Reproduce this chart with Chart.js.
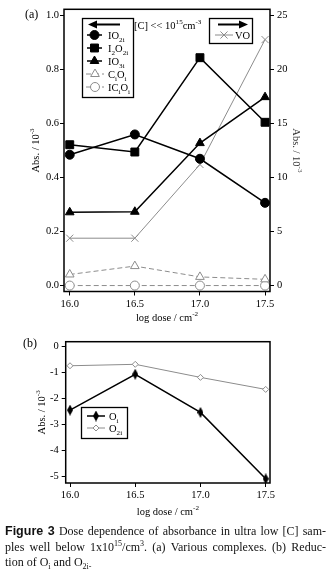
<!DOCTYPE html>
<html>
<head>
<meta charset="utf-8">
<script src="https://cdn.jsdelivr.net/npm/chart.js@4"></script>
<style>
html,body{margin:0;padding:0;background:#fff;width:331px;height:575px;overflow:hidden}
canvas{position:absolute;left:0}
#cap{position:absolute;left:5px;top:524px;width:321px;font:12px 'Liberation Serif',serif;line-height:15.5px;color:#111}
#cap .j{text-align:justify;text-align-last:justify}
#cap b{font-family:'Liberation Sans',sans-serif;font-size:12.5px}
#cap sup,#cap sub{font-size:8px;line-height:0}
</style>
</head>
<body>
<canvas id="ca" width="331" height="330" style="top:0"></canvas>
<canvas id="cb" width="331" height="200" style="top:325px"></canvas>
<div id="cap">
<div class="j"><b>Figure 3</b> Dose dependence of absorbance in ultra low [C] sam-</div>
<div class="j">ples well below 1x10<sup>15</sup>/cm<sup>3</sup>. (a) Various complexes. (b) Reduc-</div>
<div>tion of O<sub>i</sub> and O<sub>2i-</sub></div>
</div>
<script>
// log dose (cm^-2)
const doses = [16.0, 16.5, 17.0, 17.5];

// (a) complexes, absorbance / 10^-3 (left axis)
const io2i  = [0.484, 0.559, 0.469, 0.306];
const i2o2i = [0.521, 0.494, 0.843, 0.604];
const io3i  = [0.271, 0.273, 0.527, 0.697];
const cioi  = [0.041, 0.072, 0.032, 0.023];
const icioi = [0.0, 0.0, 0.0, 0.0];
// (a) VO, absorbance / 10^-3 (right axis)
const vo    = [4.38, 4.38, 11.2, 22.75];

// (b) oxygen reduction, absorbance / 10^-3
const oi  = [-2.45, -1.08, -2.54, -5.08];
const o2i = [-0.755, -0.70, -1.20, -1.66];

// tick labels
const doseTicks = ['16.0', '16.5', '17.0', '17.5'];
const absTicksA = ['0.0', '0.2', '0.4', '0.6', '0.8', '1.0'];
const voTicks   = ['0', '5', '10', '15', '20', '25'];
const absTicksB = ['-5', '-4', '-3', '-2', '-1', '0'];

const SERIF = "'Liberation Serif', serif";
const GREY = '#8c8c8c';
const FS = 10.5;

// draws text where digits and lowercase i after the first char are subscripts
function chemParts(s) {
  const parts = [];
  for (let k = 0; k < s.length; k++) {
    const c = s[k];
    const mode = (k > 0 && /[0-9i]/.test(c)) ? 'sub' : '';
    if (parts.length && parts[parts.length - 1][1] === mode) parts[parts.length - 1][0] += c;
    else parts.push([c, mode]);
  }
  return parts;
}

function rich(ctx, parts, x, y, size, align) {
  const base = size + 'px ' + SERIF;
  const small = (size * 0.68).toFixed(1) + 'px ' + SERIF;
  let w = 0;
  const ws = parts.map(p => { ctx.font = p[1] ? small : base; const m = ctx.measureText(p[0]).width; w += m; return m; });
  let cx = align === 'center' ? x - w / 2 : align === 'right' ? x - w : x;
  ctx.textAlign = 'left';
  ctx.textBaseline = 'alphabetic';
  parts.forEach((p, i) => {
    ctx.font = p[1] ? small : base;
    const dy = p[1] === 'sub' ? size * 0.3 : p[1] === 'sup' ? -size * 0.45 : 0;
    ctx.fillText(p[0], cx, y + dy);
    cx += ws[i];
  });
}

function rotatedTitle(ctx, parts, x, y, angle) {
  ctx.save();
  ctx.translate(x, y);
  ctx.rotate(angle);
  rich(ctx, parts, 0, 0, FS, 'center');
  ctx.restore();
}

function arrow(ctx, tail, head, y) {
  const d = head > tail ? 1 : -1;
  ctx.save();
  ctx.strokeStyle = '#000';
  ctx.fillStyle = '#000';
  ctx.lineWidth = 2;
  ctx.beginPath();
  ctx.moveTo(tail, y);
  ctx.lineTo(head - d * 7, y);
  ctx.stroke();
  ctx.beginPath();
  ctx.moveTo(head, y);
  ctx.lineTo(head - d * 9, y - 4);
  ctx.lineTo(head - d * 9, y + 4);
  ctx.closePath();
  ctx.fill();
  ctx.restore();
}

function sample(ctx, ds, x0, x1, xm, y) {
  ctx.save();
  ctx.strokeStyle = ds.borderColor;
  ctx.lineWidth = ds.borderWidth;
  ctx.setLineDash(ds.borderDash || []);
  ctx.beginPath();
  ctx.moveTo(x0, y);
  ctx.lineTo(x1, y);
  ctx.stroke();
  ctx.setLineDash([]);
  ctx.fillStyle = ds.pointBackgroundColor;
  ctx.strokeStyle = ds.pointBorderColor;
  ctx.lineWidth = ds.pointBorderWidth;
  Chart.helpers.drawPoint(ctx, { pointStyle: ds.pointStyle, radius: ds.pointRadius, rotation: 0, borderWidth: ds.pointBorderWidth }, xm, y);
  ctx.restore();
}

function box(ctx, x, y, w, h) {
  ctx.save();
  ctx.fillStyle = '#fff';
  ctx.fillRect(x, y, w, h);
  ctx.strokeStyle = '#000';
  ctx.lineWidth = 1.3;
  ctx.strokeRect(x, y, w, h);
  ctx.restore();
}

function frame(ctx, a) {
  ctx.save();
  ctx.strokeStyle = '#000';
  ctx.lineWidth = 1.5;
  ctx.strokeRect(a.left, a.top, a.right - a.left, a.bottom - a.top);
  ctx.restore();
}

function axis(pos, min, max, values, labels, size, pad) {
  return {
    type: 'linear', position: pos, min: min, max: max,
    afterBuildTicks: s => { s.ticks = values.map(v => ({ value: v })); },
    afterFit: s => { if (s.isHorizontal()) s.height = size; else s.width = size; },
    ticks: { callback: (v, i) => labels[i], color: '#000', font: { family: SERIF, size: FS }, padding: pad, autoSkip: false, maxRotation: 0 },
    grid: { drawOnChartArea: false, drawTicks: true, tickLength: 4, color: '#000', lineWidth: 1 },
    border: { display: false }
  };
}

function pts(ys) { return doses.map((x, i) => ({ x: x, y: ys[i] })); }

const solid = (ps, r) => ({
  borderColor: '#000', backgroundColor: '#000', borderWidth: 1.5,
  pointStyle: ps, pointRadius: r, pointBackgroundColor: '#000', pointBorderColor: '#000', pointBorderWidth: 1
});
const greyOpen = (ps, r) => ({
  borderColor: GREY, backgroundColor: GREY, borderWidth: 1, borderDash: [5, 3],
  pointStyle: ps, pointRadius: r, pointBackgroundColor: '#fff', pointBorderColor: GREY, pointBorderWidth: 1
});

// tall filled diamond marker for O_i
const diamond = document.createElement('canvas');
diamond.width = 6; diamond.height = 11;
(function () {
  const c = diamond.getContext('2d');
  c.fillStyle = '#000';
  c.beginPath();
  c.moveTo(3, 0); c.lineTo(6, 5.5); c.lineTo(3, 11); c.lineTo(0, 5.5);
  c.closePath(); c.fill();
})();

const common = {
  responsive: false, animation: false, devicePixelRatio: 1,
  plugins: { legend: { display: false }, tooltip: { enabled: false } },
  elements: { line: { tension: 0 } }
};

// ---------- (a) various complexes ----------
const dsA = [
  Object.assign({ label: 'IO2i', data: pts(io2i), yAxisID: 'y' }, solid('circle', 4.5)),
  Object.assign({ label: 'I2O2i', data: pts(i2o2i), yAxisID: 'y' }, solid('rect', 5.6)),
  Object.assign({ label: 'IO3i', data: pts(io3i), yAxisID: 'y' }, solid('triangle', 5)),
  Object.assign({ label: 'CiOi', data: pts(cioi), yAxisID: 'y' }, greyOpen('triangle', 5)),
  Object.assign({ label: 'ICiOi', data: pts(icioi), yAxisID: 'y' }, greyOpen('circle', 4.5)),
  Object.assign({ label: 'VO', data: pts(vo), yAxisID: 'y1' }, {
    borderColor: GREY, backgroundColor: GREY, borderWidth: 1,
    pointStyle: 'crossRot', pointRadius: 5, pointBackgroundColor: GREY, pointBorderColor: GREY, pointBorderWidth: 1
  })
];

new Chart(document.getElementById('ca'), {
  type: 'line',
  data: { datasets: dsA },
  options: Object.assign({}, common, {
    layout: { padding: { top: 8.5, left: 0, right: 0, bottom: 0 } },
    scales: {
      x: axis('bottom', 15.956, 17.538, doses, doseTicks, 330 - 291.5, 2),
      y: axis('left', -0.022, 1.022, [0, 0.2, 0.4, 0.6, 0.8, 1.0], absTicksA, 64, 1),
      y1: axis('right', -0.55, 25.55, [0, 5, 10, 15, 20, 25], voTicks, 61, 3)
    }
  }),
  plugins: [{
    id: 'decorA',
    afterDraw(chart) {
      const ctx = chart.ctx, a = chart.chartArea;
      frame(ctx, a);
      ctx.fillStyle = '#000';
      rich(ctx, [['(a)', '']], 25, 17.5, 12, 'left');
      rotatedTitle(ctx, [['Abs. / 10', ''], ['-3', 'sup']], 39, (a.top + a.bottom) / 2, -Math.PI / 2);
      ctx.fillStyle = '#333';
      rotatedTitle(ctx, [['Abs. / 10', ''], ['-3', 'sup']], 293, (a.top + a.bottom) / 2, Math.PI / 2);
      ctx.fillStyle = '#000';
      rich(ctx, [['log dose / cm', ''], ['-2', 'sup']], (a.left + a.right) / 2, 321, FS, 'center');
      rich(ctx, [['[C] << 10', ''], ['15', 'sup'], ['cm', ''], ['-3', 'sup']], 134, 28.5, FS, 'left');

      // left-axis legend
      box(ctx, 82.5, 18.5, 51, 79);
      arrow(ctx, 120, 88, 24.5);
      const rows = [35, 48, 61, 74, 87];
      for (let k = 0; k < 5; k++) {
        const ds = dsA[k];
        if (ds.borderDash) sample(ctx, ds, 86, 104, 95, rows[k]);
        else sample(ctx, ds, 87, 102, 94.5, rows[k]);
        ctx.fillStyle = '#000';
        rich(ctx, chemParts(ds.label), 108, rows[k] + 3.5, FS, 'left');
      }

      // right-axis legend
      box(ctx, 209.5, 18.5, 43, 25);
      arrow(ctx, 218, 248, 24.5);
      sample(ctx, dsA[5], 215, 233, 224, 35);
      ctx.fillStyle = '#000';
      rich(ctx, [['VO', '']], 235, 38.5, FS, 'left');
    }
  }]
});

// ---------- (b) reduction of O_i and O_2i ----------
const dsB = [
  Object.assign({ label: 'Oi', data: pts(oi) }, {
    borderColor: '#000', backgroundColor: '#000', borderWidth: 1.5,
    pointStyle: diamond, pointRadius: 5, pointBackgroundColor: '#000', pointBorderColor: '#000', pointBorderWidth: 0
  }),
  Object.assign({ label: 'O2i', data: pts(o2i) }, {
    borderColor: GREY, backgroundColor: GREY, borderWidth: 1,
    pointStyle: 'rectRot', pointRadius: 3, pointBackgroundColor: '#fff', pointBorderColor: GREY, pointBorderWidth: 1
  })
];

new Chart(document.getElementById('cb'), {
  type: 'line',
  data: { datasets: dsB },
  options: Object.assign({}, common, {
    layout: { padding: { top: 16.7, left: 0, right: 61, bottom: 0 } },
    scales: {
      x: axis('bottom', 15.967, 17.533, doses, doseTicks, 200 - 158, 2),
      y: axis('left', -5.24, 0.165, [-5, -4, -3, -2, -1, 0], absTicksB, 65.7, 3)
    }
  }),
  plugins: [{
    id: 'decorB',
    afterDraw(chart) {
      const ctx = chart.ctx, a = chart.chartArea;
      frame(ctx, a);
      ctx.fillStyle = '#000';
      rich(ctx, [['(b)', '']], 23, 22, 12, 'left');
      rotatedTitle(ctx, [['Abs. / 10', ''], ['-3', 'sup']], 45, (a.top + a.bottom) / 2, -Math.PI / 2);
      rich(ctx, [['log dose / cm', ''], ['-2', 'sup']], (a.left + a.right) / 2, 190, FS, 'center');

      box(ctx, 81.5, 82.5, 46, 31);
      const rows = [91, 103];
      for (let k = 0; k < 2; k++) {
        sample(ctx, dsB[k], 87, 105, 96, rows[k]);
        ctx.fillStyle = '#000';
        rich(ctx, chemParts(dsB[k].label), 109, rows[k] + 3.5, FS, 'left');
      }
    }
  }]
});
</script>
</body>
</html>
